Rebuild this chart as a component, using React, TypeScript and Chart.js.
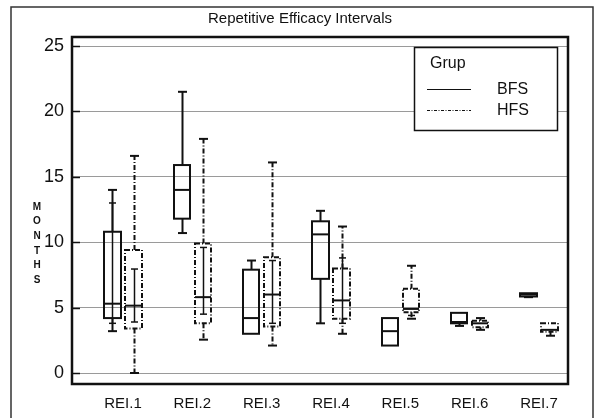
import React, { useEffect, useRef } from 'react';
import { Chart, registerables } from 'chart.js';

Chart.register(...registerables);

const categories = ['REI.1', 'REI.2', 'REI.3', 'REI.4', 'REI.5', 'REI.6', 'REI.7'];
const yTickValues = [0, 5, 10, 15, 20, 25];
const seriesNames = ['BFS', 'HFS'];

// BFS (solid)
const bfsMin = [3.2, 10.7, 3.0, 3.8, 2.1, 3.6, 5.8];
const bfsLo = [3.8, null, null, null, null, null, null];
const bfsQ1 = [4.2, 11.8, 3.0, 7.2, 2.1, 3.8, 5.85];
const bfsMed = [5.3, 14.0, 4.2, 10.6, 3.2, 3.9, 6.0];
const bfsQ3 = [10.8, 15.9, 7.9, 11.6, 4.2, 4.6, 6.1];
const bfsHi = [13.0, null, null, null, null, null, null];
const bfsMax = [14.0, 21.5, 8.6, 12.4, 4.2, 4.6, 6.1];

// HFS (dash-dot)
const hfsMin = [0, 2.55, 2.1, 3.0, 4.15, 3.3, 2.85];
const hfsLo = [3.9, 4.5, 3.8, 3.8, 4.4, null, null];
const hfsQ1 = [3.4, 3.8, 3.55, 4.15, 4.65, 3.5, 3.15];
const hfsMed = [5.15, 5.8, 6.0, 5.55, 4.9, 3.8, 3.3];
const hfsQ3 = [9.4, 9.9, 8.85, 8.0, 6.45, 4.0, 3.8];
const hfsHi = [7.95, 9.6, 8.6, 8.8, null, null, null];
const hfsMax = [16.6, 17.9, 16.1, 11.2, 8.2, 4.2, 3.8];

const FONT = '"Liberation Sans", Arial, Helvetica, sans-serif';
const INK = '#111';
const DASH_DOT = [5, 2, 1, 2];
const PAIR_OFFSET = 0.152;
const BOX_HALF = 0.118;

type Stats = { min: number; lo: number | null; q1: number; med: number; q3: number; hi: number | null; max: number };

function stats(i: number, s: number): Stats {
  if (s === 0) return { min: bfsMin[i], lo: bfsLo[i], q1: bfsQ1[i], med: bfsMed[i], q3: bfsQ3[i], hi: bfsHi[i], max: bfsMax[i] };
  return { min: hfsMin[i], lo: hfsLo[i], q1: hfsQ1[i], med: hfsMed[i], q3: hfsQ3[i], hi: hfsHi[i], max: hfsMax[i] };
}

function line(ctx: CanvasRenderingContext2D, x1: number, y1: number, x2: number, y2: number) {
  ctx.beginPath();
  ctx.moveTo(x1, y1);
  ctx.lineTo(x2, y2);
  ctx.stroke();
}

const boxPlugin = {
  id: 'boxes',
  afterDatasetsDraw(chart: any) {
    const ctx: CanvasRenderingContext2D = chart.ctx;
    const xs = chart.scales.x;
    const ys = chart.scales.y;
    ctx.save();
    ctx.strokeStyle = INK;
    ctx.lineCap = 'butt';
    categories.forEach((_, i) => {
      for (let s = 0; s < 2; s++) {
        const d = stats(i, s);
        const c = i + 1 + (s === 0 ? -PAIR_OFFSET : PAIR_OFFSET);
        const xc = Math.round(xs.getPixelForValue(c)) + 0.5;
        const xl = Math.round(xs.getPixelForValue(c - BOX_HALF));
        const xr = Math.round(xs.getPixelForValue(c + BOX_HALF));
        const yMin = ys.getPixelForValue(d.min);
        const yMax = ys.getPixelForValue(d.max);
        const yQ1 = ys.getPixelForValue(d.q1);
        const yQ3 = ys.getPixelForValue(d.q3);
        const yMed = ys.getPixelForValue(d.med);
        const dash = s === 1 ? DASH_DOT : [];
        ctx.lineWidth = 2;
        ctx.setLineDash(dash);
        if (d.max > d.q3) line(ctx, xc, yQ3, xc, yMax);
        if (d.min < d.q1) line(ctx, xc, yQ1, xc, yMin);
        ctx.setLineDash([]);
        if (d.max > d.q3) line(ctx, xc - 4.5, yMax, xc + 4.5, yMax);
        if (d.min < d.q1) line(ctx, xc - 4.5, yMin, xc + 4.5, yMin);
        ctx.setLineDash(dash);
        ctx.strokeRect(xl, yQ3, xr - xl, yQ1 - yQ3);
        ctx.setLineDash([]);
        line(ctx, xl, yMed, xr, yMed);
        if (d.lo !== null && d.hi !== null) {
          const yLo = ys.getPixelForValue(d.lo);
          const yHi = ys.getPixelForValue(d.hi);
          ctx.lineWidth = 1.5;
          line(ctx, xc, yHi, xc, yLo);
          line(ctx, xc - 3.5, yHi, xc + 3.5, yHi);
          line(ctx, xc - 3.5, yLo, xc + 3.5, yLo);
        } else if (d.lo !== null) {
          const yLo = ys.getPixelForValue(d.lo);
          ctx.lineWidth = 1.5;
          line(ctx, xc - 3.5, yLo, xc + 3.5, yLo);
        }
      }
    });
    ctx.restore();
  },
  afterDraw(chart: any) {
    const ctx: CanvasRenderingContext2D = chart.ctx;
    const a = chart.chartArea;
    const ys = chart.scales.y;
    ctx.save();
    ctx.strokeStyle = '#333';
    ctx.lineWidth = 1.5;
    ctx.beginPath();
    ctx.moveTo(11, 430);
    ctx.lineTo(11, 7);
    ctx.lineTo(593, 7);
    ctx.lineTo(593, 430);
    ctx.stroke();
    ctx.fillStyle = INK;
    ctx.font = `15px ${FONT}`;
    ctx.textAlign = 'center';
    ctx.textBaseline = 'middle';
    ctx.fillText('Repetitive Efficacy Intervals', 300, 19);
    ctx.strokeStyle = INK;
    ctx.lineWidth = 1.5;
    yTickValues.forEach((v) => {
      const y = Math.round(ys.getPixelForValue(v)) + 0.5;
      line(ctx, a.left, y, a.left + 8, y);
    });
    ctx.lineWidth = 2.5;
    ctx.strokeRect(a.left, a.top, a.right - a.left, a.bottom - a.top);
    ctx.font = `bold 10px ${FONT}`;
    ctx.textAlign = 'center';
    'MONTHS'.split('').forEach((ch, k) => {
      ctx.fillText(ch, 37, 207 + k * 14.6);
    });
    const lx = 414, ly = 47, lw = 143, lh = 83;
    ctx.fillStyle = '#fff';
    ctx.fillRect(lx, ly, lw, lh);
    ctx.lineWidth = 1.5;
    ctx.strokeStyle = INK;
    ctx.strokeRect(lx + 0.5, ly + 0.5, lw, lh);
    ctx.fillStyle = INK;
    ctx.font = `16px ${FONT}`;
    ctx.textAlign = 'left';
    ctx.fillText('Grup', 430, 64);
    seriesNames.forEach((name, k) => {
      const y = 89 + k * 21;
      ctx.lineWidth = 1.2;
      ctx.setLineDash(k === 1 ? [3, 1.5, 1, 1.5] : []);
      line(ctx, 427, y + 0.5, 471, y + 0.5);
      ctx.setLineDash([]);
      ctx.fillText(name, 497, y + 1);
    });
    ctx.restore();
  },
};

export default function App() {
  const ref = useRef<HTMLCanvasElement | null>(null);
  useEffect(() => {
    if (!ref.current) return;
    const chart = new Chart(ref.current, {
      type: 'scatter',
      data: {
        datasets: seriesNames.map((name, s) => ({
          label: name,
          data: categories.map((_, i) => ({
            x: i + 1 + (s === 0 ? -PAIR_OFFSET : PAIR_OFFSET),
            y: s === 0 ? bfsMed[i] : hfsMed[i],
          })),
          pointRadius: 0,
          showLine: false,
        })),
      },
      options: {
        responsive: false,
        animation: false,
        devicePixelRatio: 1,
        layout: { padding: { left: 0, right: 26, top: 37, bottom: 0 } },
        plugins: { legend: { display: false }, title: { display: false }, tooltip: { enabled: false } },
        scales: {
          x: {
            type: 'linear',
            min: 0.264,
            max: 7.418,
            grid: { display: false, drawTicks: false },
            border: { display: false },
            afterBuildTicks: (scale: any) => {
              scale.ticks = categories.map((_, i) => ({ value: i + 1 }));
            },
            afterFit: (scale: any) => {
              scale.height = 34;
            },
            ticks: {
              padding: 11,
              color: INK,
              font: { family: FONT, size: 15 },
              maxRotation: 0,
              autoSkip: false,
              callback: (v: any) => categories[Math.round(Number(v)) - 1] ?? '',
            },
          },
          y: {
            type: 'linear',
            min: -0.84,
            max: 25.69,
            grid: { color: '#9a9a9a', lineWidth: 1, drawTicks: false },
            border: { display: false },
            afterBuildTicks: (scale: any) => {
              scale.ticks = yTickValues.map((v) => ({ value: v }));
            },
            afterFit: (scale: any) => {
              scale.width = 72;
            },
            ticks: {
              padding: 8,
              color: INK,
              font: { family: FONT, size: 18 },
              callback: (v: any) => String(v),
            },
          },
        },
      },
      plugins: [boxPlugin],
    } as any);
    return () => chart.destroy();
  }, []);
  return (
    <div style={{ position: 'absolute', left: 0, top: 0, width: 594, height: 418, background: '#fff' }}>
      <canvas ref={ref} width={594} height={418} style={{ display: 'block' }} />
    </div>
  );
}
